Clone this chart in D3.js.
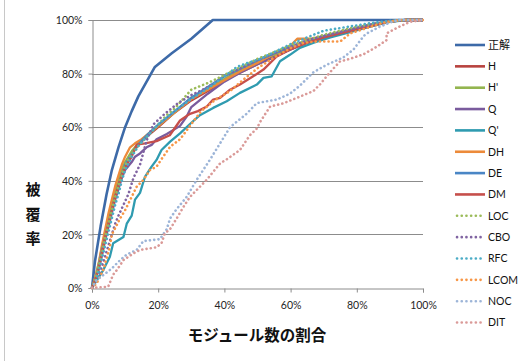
<!DOCTYPE html>
<html>
<head>
<meta charset="utf-8">
<script src="https://cdn.jsdelivr.net/npm/d3@7"></script>
<style>
  body { margin: 0; background: #fff; }
  svg { display: block; }
  .tick text { font-family: Lato, "Liberation Sans", sans-serif; font-size: 10.5px; fill: #262626; }
</style>
</head>
<body>
<div id="chart"></div>
<script>
// series names, in drawing / legend order
var seriesNames = ["正解", "H", "H'", "Q", "Q'", "DH", "DE", "DM", "LOC", "CBO", "RFC", "LCOM", "NOC", "DIT"];

// each series: [module ratio %, coverage %]
var seikai = [[0,0],[0.9,10],[2.6,23],[4.4,35],[6,44],[8,52.5],[10,60],[12,66],[14,71.5],[16.5,77],[19,82.5],[24,87.5],[30,93],[36.5,100],[100,100]];
var sH = [[0,0],[1,3],[2,8],[3,14],[4,20],[5,25],[6,30],[7,35],[8,39],[9,43],[10,46],[12,50],[14,53.5],[17,57],[20,60],[25,65.5],[30,70],[35,73.5],[40,77.5],[45,80.5],[50,83.5],[55,86.5],[60,89],[65,91.5],[70,93.5],[75,95.5],[80,97],[85,98.5],[90,99.5],[95,100],[100,100]];
var sH2 = [[0,0],[1,4],[2,9],[3,15],[4,21],[5,26],[5.5,29],[6.5,33],[7.5,39],[8.5,43],[10,47],[12,51],[14,54],[17,57.5],[20,60.5],[25,65.5],[30,71],[35,74.5],[40,78],[45,81.5],[50,84.5],[55,87],[60,89.5],[65,92],[70,94],[75,95.5],[80,97],[85,98.5],[90,99.5],[95,100],[100,100]];
var sQ = [[0,0],[1,3],[2,7],[3,12],[4,18],[5,23],[6,28],[7,33],[8,37],[9,41],[10,44],[12,47],[13,49],[14.5,50.2],[16.5,52.5],[18,53.4],[19.5,55.5],[22.6,57.5],[26.6,60.5],[28.6,64],[30,67.5],[35,72.5],[40,77],[45,80.5],[50,83.5],[55,86],[60,89],[65,91.5],[70,93],[75,95],[80,96.5],[85,98],[90,99.5],[95,100],[100,100]];
var sQ2 = [[0,0],[1,2],[3.4,6.7],[5.4,11.7],[6.4,16.7],[9.5,19],[10.5,24],[12,27],[13,33],[14.5,35.5],[16,41.5],[18,45.3],[19.5,47.8],[21,51.5],[23.6,54.6],[26.6,57.7],[29.6,61.2],[32.6,64.5],[36.6,67.2],[40.7,69.7],[44.7,72.8],[49.8,75.9],[51.8,78.4],[54.3,79],[56.8,84.6],[59.8,87],[62.8,89.6],[67,91.5],[72,93.5],[78,95.5],[84,97.5],[90,99.3],[95,100],[100,100]];
var sDH = [[0,0],[1,4],[2,9],[3,16],[4,22],[5,28],[6,33],[7,38],[8,42],[9,46],[10,49],[11.5,52.5],[13,54],[15,55.5],[17,57.5],[20,60.5],[25,65.5],[30,70.5],[35,74],[40,77.5],[45,81],[50,84],[55,87.5],[60,90.5],[62,93],[66,93],[70,94],[75,95.5],[80,97],[85,98.5],[90,99.5],[95,100],[100,100]];
var sDE = [[0,0],[1,3],[2,8],[3,14],[4,19],[5,24],[6,29],[7,34],[8,38],[9,42],[10,46],[12,50],[14,53.5],[17,57.5],[20,61],[25,66],[30,71],[35,75],[40,79],[45,82],[50,85],[55,87.5],[60,90],[65,92],[70,94],[75,95.5],[80,97],[85,98.5],[90,99.5],[95,100],[100,100]];
var sDM = [[0,0],[1,3],[2,7],[3,13],[4,19],[5,24],[6,29],[7,34],[8,38],[9,42],[10,45],[12,49],[13.5,53.5],[16,54],[19.5,54.8],[23.5,57],[26.6,62.5],[29.6,65],[32,66],[34.7,67.7],[36.6,70.3],[38.7,70.9],[41.7,74],[44.7,75.9],[48.7,79],[51.8,81.5],[55.8,86.4],[59.8,89],[65,91.5],[70,93.5],[75,95],[80,96.5],[85,98],[90,99.5],[95,100],[100,100]];
var sLOC = [[0,0],[1,3],[2,8],[3,13],[4,19],[5,24],[6,29],[7,34],[8,38],[9.5,44],[10.5,47],[12,50],[14,53],[17,57],[20,61],[22.6,64.5],[25,67],[30,74],[35,76.5],[37.6,78],[40,79.5],[45,82.5],[50,85.5],[55,88],[60,90.5],[65,92.5],[70,94.5],[75,96],[80,97.5],[85,98.5],[90,99.5],[95,100],[100,100]];
var sCBO = [[0,0],[1,2],[2,5],[3,8],[4,12],[5,16],[6,20],[7,24],[8,27],[9.5,31],[11,35],[12.5,41],[14.5,46],[16.5,55],[18.5,61],[22,65],[26,69],[30,72],[33.5,74],[37,76.5],[40,79],[45,82],[50,85],[55,87.5],[60,90],[65,92.5],[70,94],[75,95.5],[80,97],[85,98.5],[90,99.5],[95,100],[100,100]];
var sRFC = [[0,0],[1,2],[2,6],[3,11],[4,16],[5,21],[6,26],[7,31],[8,35],[9,40],[10,44],[12,49],[14,53],[17,57],[20,61],[25,66],[30,70.5],[35,74.5],[40,79],[43.8,82.5],[47,84],[50.8,85.5],[55,88],[60,91],[65,93.5],[70,96],[75,97],[80,98],[85,99],[90,99.7],[93,100],[100,100]];
var sLCOM = [[0,0],[1.4,1.7],[3.4,6.7],[4.4,11],[5.4,15.4],[6,20],[7.5,23.5],[8.5,26],[10,29],[11.5,32.8],[13.5,37.8],[15.5,40.3],[17.5,44],[19.5,45.3],[21.5,49],[23.6,52.7],[26.6,55.5],[29.6,60.5],[33,66],[37,70],[41.7,73.5],[46,78],[50,82],[55,86],[60,89.5],[64,91.5],[68,92],[75,92],[78,95],[83,97],[88,99],[93,100],[100,100]];
var sNOC = [[0,0],[1.4,3],[3.4,4.8],[6,7.3],[8.5,10.4],[10.5,12.5],[13.5,14.2],[15.5,17.5],[20.5,18.2],[22.6,22],[23.6,26],[25.6,29.5],[28.6,34],[31.6,40.3],[35.6,47.8],[38.7,54],[41.7,60],[46.7,65],[49.8,69],[55.8,70.3],[59.8,72.5],[62.8,75.5],[66.9,80.5],[70.9,83.3],[75.9,86],[79,89],[82,93.9],[83,95],[87,97.5],[91,99.5],[93,100],[100,100]];
var sDIT = [[0,0],[4.9,0.5],[6.4,5],[7.5,6.7],[9.5,10.4],[12.5,12.9],[14.5,14.2],[19.5,15.2],[21,16.7],[22,20.4],[23.6,22],[25.6,26],[27.5,30],[29.6,34],[34.6,40.3],[38.7,46.5],[40.7,48],[44.7,51.5],[47.7,57],[49.8,59.5],[50.8,62],[53.8,67.7],[57.8,68.9],[62.8,71.4],[66.9,73.5],[68.9,76],[71.9,80.5],[74.9,84.5],[77.9,85.5],[82,87.2],[86,90],[89,92.5],[89,95],[92,97],[96,99.3],[100,100]];

var seriesValues = [seikai, sH, sH2, sQ, sQ2, sDH, sDE, sDM, sLOC, sCBO, sRFC, sLCOM, sNOC, sDIT];
var seriesColors = ["#3d6aa8", "#b8433f", "#93b54f", "#7a5b9d", "#2f9bb0", "#ec8a3a", "#4a86c5", "#c64f4b",
                    "#9bbb59", "#8064a2", "#4bacc6", "#f79646", "#9db5d8", "#da9a98"];
var seriesDotted = [false, false, false, false, false, false, false, false, true, true, true, true, true, true];

var xTicks = [0, 20, 40, 60, 80, 100];
var yTicks = [0, 20, 40, 60, 80, 100];

var W = 527, H = 361;
var margin = {top: 20, right: 104, bottom: 73, left: 92};
var width = W - margin.left - margin.right,
    height = H - margin.top - margin.bottom;

var svg = d3.select("#chart").append("svg")
  .attr("width", W)
  .attr("height", H);

// outer chart frame (left edge visible)
svg.append("line")
  .attr("x1", 4.5).attr("x2", 4.5)
  .attr("y1", 0).attr("y2", H)
  .attr("stroke", "#c8c8c8");

var g = svg.append("g")
  .attr("transform", "translate(" + margin.left + "," + margin.top + ")");

var x = d3.scaleLinear().domain([0, 100]).range([0, width]);
var y = d3.scaleLinear().domain([0, 100]).range([height, 0]);

// gridlines
g.selectAll(".grid")
  .data(yTicks.filter(function(d) { return d > 0; }))
  .enter().append("line")
  .attr("x1", 0).attr("x2", width)
  .attr("y1", function(d) { return Math.round(y(d)) + 0.5; })
  .attr("y2", function(d) { return Math.round(y(d)) + 0.5; })
  .attr("stroke", "#8c8c8c");

// axes
var fmt = function(d) { return d + "%"; };

var xAxis = g.append("g")
  .attr("transform", "translate(0," + (Math.round(height) + 0.5) + ")")
  .call(d3.axisBottom(x).tickValues(xTicks).tickFormat(fmt).tickSize(4).tickPadding(9));

var yAxis = g.append("g")
  .attr("transform", "translate(0.5,0)")
  .call(d3.axisLeft(y).tickValues(yTicks).tickFormat(fmt).tickSize(4).tickPadding(6));

[xAxis, yAxis].forEach(function(a) {
  a.select(".domain").attr("stroke", "#8c8c8c");
  a.selectAll(".tick line").attr("stroke", "#8c8c8c");
});
yAxis.selectAll(".tick text").attr("dy", "0.35em");

// lines
var line = d3.line()
  .x(function(d) { return x(d[0]); })
  .y(function(d) { return y(d[1]); });

seriesValues.forEach(function(vals, i) {
  var p = g.append("path")
    .datum(vals)
    .attr("d", line)
    .attr("fill", "none")
    .attr("stroke", seriesColors[i])
    .attr("stroke-linejoin", "round");
  if (seriesDotted[i]) {
    p.attr("stroke-width", 2.6)
      .attr("stroke-linecap", "round")
      .attr("stroke-dasharray", "0.1,4.2");
  } else {
    p.attr("stroke-width", i === 0 ? 2.6 : 2.3);
  }
});

// axis titles
var yTitle = svg.append("text")
  .attr("font-family", "'Noto Sans CJK JP', sans-serif")
  .attr("font-size", "15px")
  .attr("font-weight", "bold")
  .attr("fill", "#111")
  .attr("text-anchor", "middle");
["被", "覆", "率"].forEach(function(c, i) {
  yTitle.append("tspan").attr("x", 33).attr("y", 195 + i * 24.5).text(c);
});

svg.append("text")
  .attr("x", 257).attr("y", 341)
  .attr("font-family", "'Noto Sans CJK JP', sans-serif")
  .attr("font-size", "15.5px")
  .attr("font-weight", "bold")
  .attr("fill", "#111")
  .attr("text-anchor", "middle")
  .text("モジュール数の割合");

// legend
var legend = svg.append("g").attr("transform", "translate(455,45)");
seriesNames.forEach(function(name, i) {
  var row = legend.append("g").attr("transform", "translate(0," + (i * 21.35) + ")");
  var l = row.append("line")
    .attr("x1", 0).attr("x2", 30)
    .attr("y1", 0).attr("y2", 0)
    .attr("stroke", seriesColors[i]);
  if (seriesDotted[i]) {
    l.attr("x1", 2).attr("x2", 30)
      .attr("stroke-width", 2.6)
      .attr("stroke-linecap", "round")
      .attr("stroke-dasharray", "0.1,4.6");
  } else {
    l.attr("stroke-width", 2.6);
  }
  row.append("text")
    .attr("x", 33).attr("y", 0).attr("dy", "0.36em")
    .attr("font-family", name === "正解" ? "'Noto Sans CJK JP', sans-serif" : "Lato, 'Liberation Sans', sans-serif")
    .attr("font-size", name === "正解" ? "11px" : "10.5px")
    .attr("fill", "#111")
    .text(name);
});
</script>
</body>
</html>
